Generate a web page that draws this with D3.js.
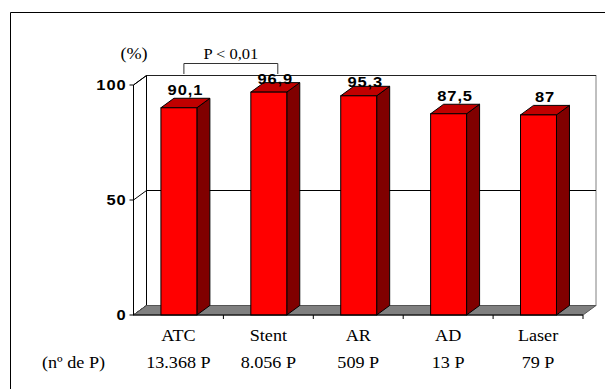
<!DOCTYPE html>
<html><head><meta charset="utf-8">
<script src="https://cdn.jsdelivr.net/npm/d3@7"></script>
<style>
html,body{margin:0;padding:0;background:#fff;overflow:hidden;}
svg{display:block;overflow:hidden;}
.serif{font-family:"Liberation Serif","Times New Roman",Times,serif;}
.sans{font-family:"Liberation Sans",Arial,Helvetica,sans-serif;font-weight:bold;}
</style>
</head><body>
<script>
const categories = ["ATC", "Stent", "AR", "AD", "Laser"];
const values = [90.1, 96.9, 95.3, 87.5, 87];
const valueLabels = ["90,1", "96,9", "95,3", "87,5", "87"];
const patients = ["13.368 P", "8.056 P", "509 P", "13 P", "79 P"];
const yTicks = [0, 50, 100];
const yUnit = "(%)";
const rowLabel = "(nº de P)";
const sigLabel = "P < 0,01";

const W = 605, H = 389;
const svg = d3.select("body").append("svg").attr("width", W).attr("height", H);

const x = d3.scaleBand().domain(categories).range([133.5, 583]).paddingInner(0).paddingOuter(0);
const y = d3.scaleLinear().domain([0, 100]).range([315, 85]);
const dx = 13, dy = -9.5;
const bw = x.bandwidth();
const barW = bw * 0.4, barOff = bw * 0.305;
const sx = 1.1;

// outer frame (only left and top edges fall inside the picture)
svg.append("line").attr("x1", 10.5).attr("x2", 10.5).attr("y1", 12.5).attr("y2", H)
  .attr("stroke", "#000").attr("stroke-width", 1);
svg.append("line").attr("x1", 10.5).attr("x2", W).attr("y1", 12.5).attr("y2", 12.5)
  .attr("stroke", "#000").attr("stroke-width", 1);

const x0 = x.range()[0], x1 = x.range()[1];
const yTop = y(100), yBot = y(0);

// back wall
svg.append("rect").attr("x", x0 + dx).attr("y", yTop + dy).attr("width", x1 - x0).attr("height", yBot - yTop)
  .attr("fill", "#fff").attr("stroke", "#808080").attr("stroke-width", 1);
svg.append("line").attr("x1", x0 + dx).attr("x2", x1 + dx).attr("y1", yTop + dy).attr("y2", yTop + dy)
  .attr("stroke", "#222").attr("stroke-width", 1);
// left wall
svg.append("path")
  .attr("d", `M${x0},${yBot}L${x0},${yTop}L${x0 + dx},${yTop + dy}L${x0 + dx},${yBot + dy}Z`)
  .attr("fill", "#fff").attr("stroke", "#000").attr("stroke-width", 1);
// gridlines
yTicks.filter(t => t > 0 && t < 100).forEach(t => {
  svg.append("line").attr("x1", x0 + dx).attr("x2", x1 + dx).attr("y1", y(t) + dy).attr("y2", y(t) + dy)
    .attr("stroke", "#000").attr("stroke-width", 1);
});
yTicks.forEach(t => {
  svg.append("line").attr("x1", x0).attr("y1", y(t)).attr("x2", x0 + dx).attr("y2", y(t) + dy)
    .attr("stroke", "#000").attr("stroke-width", 1);
});
// floor
svg.append("path")
  .attr("d", `M${x0},${yBot}L${x1},${yBot}L${x1 + dx},${yBot + dy}L${x0 + dx},${yBot + dy}Z`)
  .attr("fill", "#808080").attr("stroke", "#555").attr("stroke-width", 1);

// bars
const bars = svg.append("g");
categories.forEach((c, i) => {
  const bx = x(c) + barOff, by = y(values[i]);
  const g = bars.append("g");
  g.append("path")
    .attr("d", `M${bx + barW},${yBot}L${bx + barW + dx},${yBot + dy}L${bx + barW + dx},${by + dy}L${bx + barW},${by}Z`)
    .attr("fill", "#800000").attr("stroke", "#000").attr("stroke-width", 1).attr("stroke-linejoin", "round");
  g.append("path")
    .attr("d", `M${bx},${by}L${bx + barW},${by}L${bx + barW + dx},${by + dy}L${bx + dx},${by + dy}Z`)
    .attr("fill", "#C00000").attr("stroke", "#000").attr("stroke-width", 1).attr("stroke-linejoin", "round");
  g.append("rect").attr("x", bx).attr("y", by).attr("width", barW).attr("height", yBot - by)
    .attr("fill", "#FF0000").attr("stroke", "#000").attr("stroke-width", 1);
  let base = by - 13;
  if (base - 11 < yTop + dy) base += 4.5;
  g.append("text").attr("class", "sans")
    .attr("transform", `translate(${bx + barW / 2 + dx / 2},${base}) scale(${sx},1)`)
    .attr("text-anchor", "middle").style("font-size", "15px").style("letter-spacing", "0.8px")
    .attr("fill", "#000").text(valueLabels[i]);
});

// front axes
svg.append("line").attr("x1", x0).attr("x2", x0).attr("y1", yTop).attr("y2", yBot)
  .attr("stroke", "#000").attr("stroke-width", 1);
svg.append("line").attr("x1", x0).attr("x2", x1).attr("y1", yBot).attr("y2", yBot)
  .attr("stroke", "#000").attr("stroke-width", 1);
yTicks.forEach(t => {
  svg.append("line").attr("x1", x0 - 4).attr("x2", x0).attr("y1", y(t)).attr("y2", y(t))
    .attr("stroke", "#000").attr("stroke-width", 1);
  svg.append("text").attr("class", "sans")
    .attr("transform", `translate(${x0 - 7},${y(t) + 5.3}) scale(${sx},1)`)
    .attr("text-anchor", "end").style("font-size", "15px").style("letter-spacing", "0.8px")
    .attr("fill", "#000").text(t);
});
const bounds = categories.map(c => x(c)).concat([x1]);
bounds.slice(1).forEach(b => {
  svg.append("line").attr("x1", b).attr("x2", b).attr("y1", yBot).attr("y2", yBot + 4)
    .attr("stroke", "#000").attr("stroke-width", 1);
});

// category labels
categories.forEach((c, i) => {
  const cx = x(c) + bw / 2;
  svg.append("text").attr("class", "serif").attr("transform", `translate(${cx},341) scale(${sx},1)`)
    .attr("text-anchor", "middle").style("font-size", "16.5px").text(c);
  svg.append("text").attr("class", "serif").attr("transform", `translate(${cx},367.5) scale(${sx},1)`)
    .attr("text-anchor", "middle").style("font-size", "16.5px").text(patients[i]);
});
svg.append("text").attr("class", "serif").attr("transform", `translate(73.5,367.5) scale(${sx},1)`)
  .attr("text-anchor", "middle").style("font-size", "16.5px").text(rowLabel);
svg.append("text").attr("class", "serif").attr("transform", `translate(134,59) scale(${sx},1)`)
  .attr("text-anchor", "middle").style("font-size", "16.5px").text(yUnit);

// significance bracket between first two categories
const bxA = x(categories[0]) + barOff + barW / 2 + 5;
const bxB = x(categories[1]) + barOff + barW / 2 + 9;
svg.append("path").attr("d", `M${bxA},74L${bxA},63.5L${bxB},63.5L${bxB},74`)
  .attr("fill", "none").attr("stroke", "#333").attr("stroke-width", 1);
svg.append("text").attr("class", "serif").attr("transform", `translate(${(bxA + bxB) / 2},59) scale(${sx},1)`)
  .attr("text-anchor", "middle").style("font-size", "15px").text(sigLabel);
</script>
</body></html>
